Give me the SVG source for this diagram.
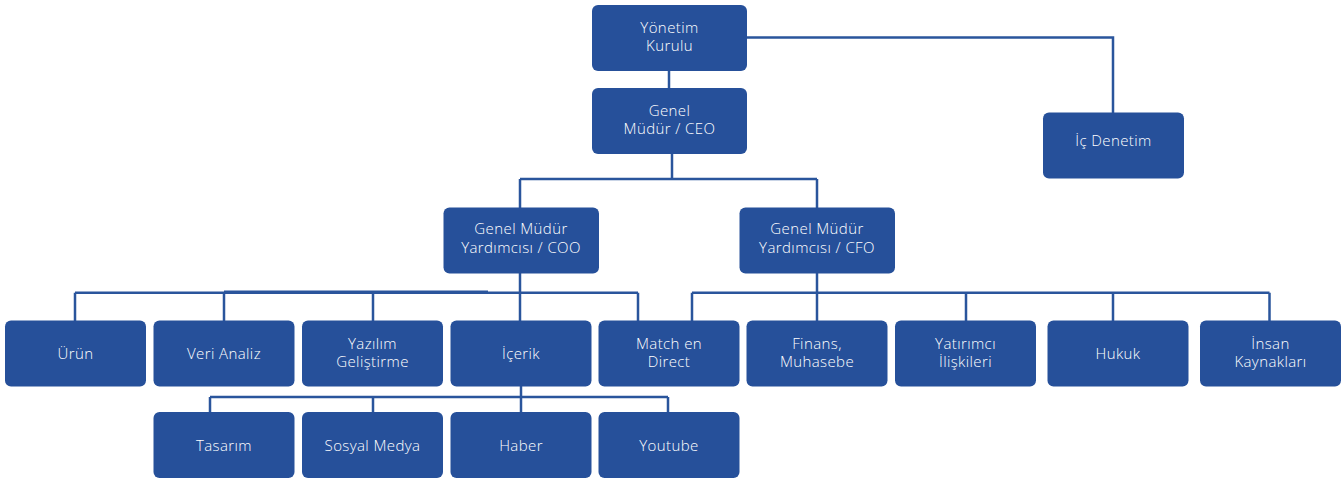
<svg xmlns="http://www.w3.org/2000/svg" width="1341" height="480" viewBox="0 0 1341 480">
<style>
.n rect{fill:#26509A;}
.n text{fill:#ffffff;font-family:"Open Sans","Lato",sans-serif;font-size:15px;font-weight:300;letter-spacing:0.4px;text-anchor:middle;}
.c{stroke:#2A559C;stroke-width:2.5;fill:none;}
</style>
<rect width="1341" height="480" fill="#ffffff"/>
<g id="connectors" class="c">
<path d="M669 70 V90"/>
<path d="M747 37.5 H1113 V114"/>
<path d="M672 153 V179"/>
<path d="M520 179 H817 M520 179 V208 M817 179 V208"/>
<path d="M520 273 V321"/>
<path d="M75 292.7 H638 M75 292.7 V321 M224 292.7 V321 M373 292.7 V321 M638 292.7 V321"/>
<path d="M224 292 H488" stroke-width="3"/>
<path d="M817 273 V321"/>
<path d="M692 292.7 H1269.5 M692 292.7 V321 M966 292.7 V321 M1113 292.7 V321 M1269.5 292.7 V321"/>
<path d="M521 386 V413"/>
<path d="M210 397 H668 M210 397 V413 M373 397 V413 M668 397 V413"/>
</g>
<g id="yonetim" class="n"><rect x="592" y="5" width="155" height="66" rx="6"/><text x="669.5" y="33">Yönetim</text><text x="669.5" y="51">Kurulu</text></g>
<g id="ceo" class="n"><rect x="592" y="88" width="155" height="66" rx="6"/><text x="669.5" y="116">Genel</text><text x="669.5" y="134">Müdür / CEO</text></g>
<g id="icdenetim" class="n"><rect x="1043" y="112.5" width="141" height="66" rx="6"/><text x="1113.5" y="146">İç Denetim</text></g>
<g id="coo" class="n"><rect x="443.5" y="207.5" width="155.5" height="66" rx="6"/><text x="521" y="234">Genel Müdür</text><text x="521" y="253">Yardımcısı / COO</text></g>
<g id="cfo" class="n"><rect x="739.5" y="207.5" width="155.5" height="66" rx="6"/><text x="817" y="234">Genel Müdür</text><text x="817" y="253">Yardımcısı / CFO</text></g>
<g id="urun" class="n"><rect x="5" y="320.5" width="141" height="66" rx="6"/><text x="75.5" y="359">Ürün</text></g>
<g id="veri" class="n"><rect x="153.5" y="320.5" width="141" height="66" rx="6"/><text x="224" y="359">Veri Analiz</text></g>
<g id="yazilim" class="n"><rect x="302" y="320.5" width="141" height="66" rx="6"/><text x="372.5" y="349">Yazılım</text><text x="372.5" y="367">Geliştirme</text></g>
<g id="icerik" class="n"><rect x="450.5" y="320.5" width="141" height="66" rx="6"/><text x="521" y="359">İçerik</text></g>
<g id="match" class="n"><rect x="598.5" y="320.5" width="141" height="66" rx="6"/><text x="669" y="349">Match en</text><text x="669" y="367">Direct</text></g>
<g id="finans" class="n"><rect x="746.5" y="320.5" width="141" height="66" rx="6"/><text x="817" y="349">Finans,</text><text x="817" y="367">Muhasebe</text></g>
<g id="yatirimci" class="n"><rect x="895" y="320.5" width="141" height="66" rx="6"/><text x="965.5" y="349">Yatırımcı</text><text x="965.5" y="367">İlişkileri</text></g>
<g id="hukuk" class="n"><rect x="1047.5" y="320.5" width="141" height="66" rx="6"/><text x="1118" y="359">Hukuk</text></g>
<g id="insan" class="n"><rect x="1200" y="320.5" width="141" height="66" rx="6"/><text x="1270.5" y="349">İnsan</text><text x="1270.5" y="367">Kaynakları</text></g>
<g id="tasarim" class="n"><rect x="153.5" y="412" width="141" height="66" rx="6"/><text x="224" y="451">Tasarım</text></g>
<g id="sosyal" class="n"><rect x="302" y="412" width="141" height="66" rx="6"/><text x="372.5" y="451">Sosyal Medya</text></g>
<g id="haber" class="n"><rect x="450.5" y="412" width="141" height="66" rx="6"/><text x="521" y="451">Haber</text></g>
<g id="youtube" class="n"><rect x="598.5" y="412" width="141" height="66" rx="6"/><text x="669" y="451">Youtube</text></g>
</svg>
